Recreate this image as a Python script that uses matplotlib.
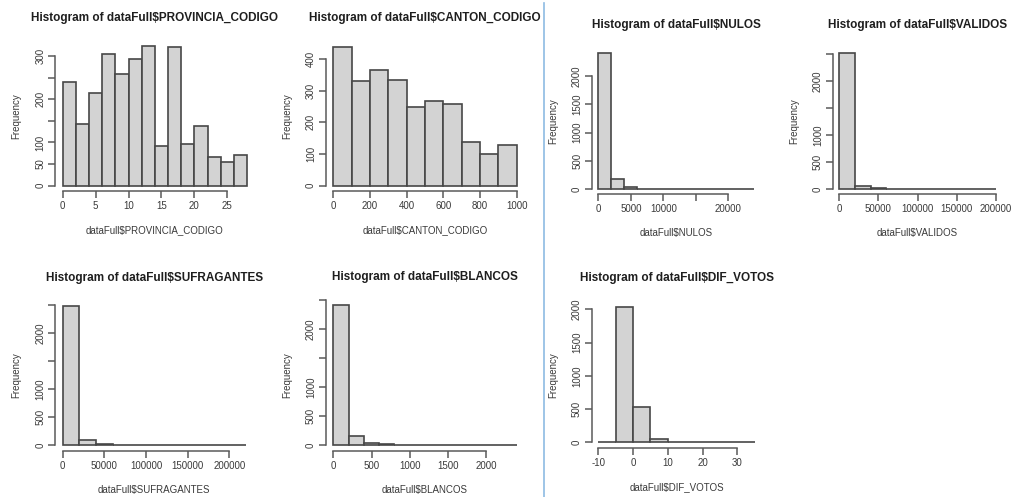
import matplotlib.pyplot as plt
import numpy as np

W, H = 1011, 497

# histogram data (bin edges + counts)
PROV_EDGES = np.arange(0, 29, 2)
PROV_COUNTS = [239, 143, 215, 304, 258, 292, 322, 92, 321, 96, 138, 67, 55, 72]

CANTON_EDGES = np.arange(0, 1001, 100)
CANTON_COUNTS = [439, 331, 365, 334, 249, 268, 259, 139, 100, 129]

NULOS_EDGES = np.arange(0, 24001, 2000)
NULOS_COUNTS = [2400, 175, 30, 5, 2, 1, 0, 0, 0, 0, 0, 1]

VALIDOS_EDGES = np.arange(0, 200001, 20000)
VALIDOS_COUNTS = [2530, 62, 10, 5, 3, 2, 1, 0, 0, 1]

SUFRA_EDGES = np.arange(0, 220001, 20000)
SUFRA_COUNTS = [2490, 90, 25, 4, 2, 1, 1, 0, 0, 0, 1]

BLANCOS_EDGES = np.arange(0, 2401, 200)
BLANCOS_COUNTS = [2410, 150, 32, 15, 4, 2, 1, 0, 1, 0, 0, 1]

DIF_EDGES = np.arange(-10, 36, 5)
DIF_COUNTS = [0, 2030, 535, 45, 12, 4, 1, 0, 1]

# tick labels (R drops the ones that would overlap)
PROV_YLABELS = ["0", "50", "100", "", "200", "", "300"]
CANTON_YLABELS = ["0", "100", "200", "300", "400"]
NULOS_XLABELS = ["0", "5000", "10000", "", "20000"]
BIG_YLABELS = ["0", "500", "1000", "", "2000", ""]
SMALL_YLABELS = ["0", "500", "1000", "1500", "2000"]
SUFRA_XLABELS = ["0", "50000", "100000", "150000", "200000"]
BLANCOS_XLABELS = ["0", "500", "1000", "1500", "2000"]
DIF_XLABELS = ["-10", "0", "10", "20", "30"]

plt.rcParams["font.family"] = ["Liberation Sans", "DejaVu Sans"]

fig = plt.figure(figsize=(W / 100, H / 100), dpi=100)
fig.patch.set_facecolor("white")

TXT = "#3a3a3a"
AXC = "#5a5a5a"


def fx(px):
    return px / W


def fy(py):
    return 1 - py / H


def panel(edges, counts, name, xticks, xlabels, yticks, ylabels,
          xpix, ypix, title_y):
    # xpix: pixel of first/last bin edge, ypix: (pixel of y=0, tick value, pixel of it)
    e0, e1 = edges[0], edges[-1]
    m = max(counts)
    p0, p1 = xpix
    q0, tv, qt = ypix
    sy = (q0 - qt) / tv
    left = p0 - 0.04 * (p1 - p0)
    right = p1 + 0.04 * (p1 - p0)
    bottom = q0 + 0.04 * m * sy
    top = q0 - 1.04 * m * sy
    ax = fig.add_axes([fx(left), fy(bottom), (right - left) / W, (bottom - top) / H])
    pad = 0.04 * (e1 - e0)
    ax.set_xlim(e0 - pad, e1 + pad)
    ax.set_ylim(-0.04 * m, 1.04 * m)
    ax.bar(edges[:-1], counts, width=np.diff(edges), align="edge",
           color="#d3d3d3", edgecolor="#474747", linewidth=1.2, clip_on=False)
    ax.patch.set_visible(False)
    for s in ("top", "right"):
        ax.spines[s].set_visible(False)
    for s in ("left", "bottom"):
        ax.spines[s].set_color(AXC)
        ax.spines[s].set_linewidth(1.1)
    ax.spines["bottom"].set_bounds(xticks[0], xticks[-1])
    ax.spines["left"].set_bounds(yticks[0], yticks[-1])
    ax.set_xticks(xticks, xlabels)
    ax.set_yticks(yticks, ylabels)
    ax.tick_params(colors=AXC, labelcolor=TXT, labelsize=7,
                   length=5, width=1.1, pad=2.2)
    ax.tick_params(axis="y", labelrotation=90)
    for t in ax.get_yticklabels():
        t.set_va("center")
    cx = (left + right) / 2
    cy = (top + bottom) / 2
    fig.text(fx(cx), fy(title_y), f"Histogram of dataFull${name}",
             ha="center", va="center", fontsize=8.5, fontweight="bold",
             color="#1e1e1e")
    fig.text(fx(cx), fy(bottom + 39), f"dataFull${name}",
             ha="center", va="center", fontsize=7, color=TXT)
    fig.text(fx(left - 39), fy(cy), "Frequency", rotation=90,
             ha="center", va="center", fontsize=7, color=TXT)
    return ax


panel(PROV_EDGES, PROV_COUNTS, "PROVINCIA_CODIGO",
      np.arange(0, 26, 5), [str(v) for v in range(0, 26, 5)],
      np.arange(0, 301, 50), PROV_YLABELS,
      (62.7, 247), (185.7, 300, 56), 18)

panel(CANTON_EDGES, CANTON_COUNTS, "CANTON_CODIGO",
      np.arange(0, 1001, 200), [str(v) for v in range(0, 1001, 200)],
      np.arange(0, 401, 100), CANTON_YLABELS,
      (333.3, 516.7), (185.7, 400, 59), 18)

panel(NULOS_EDGES, NULOS_COUNTS, "NULOS",
      np.arange(0, 20001, 5000), NULOS_XLABELS,
      np.arange(0, 2001, 500), SMALL_YLABELS,
      (598.3, 754.3), (189, 2000, 76), 25)

panel(VALIDOS_EDGES, VALIDOS_COUNTS, "VALIDOS",
      np.arange(0, 200001, 50000), SUFRA_XLABELS,
      np.arange(0, 2501, 500), BIG_YLABELS,
      (839.3, 995.7), (189, 2000, 81.3), 25)

panel(SUFRA_EDGES, SUFRA_COUNTS, "SUFRAGANTES",
      np.arange(0, 200001, 50000), SUFRA_XLABELS,
      np.arange(0, 2501, 500), BIG_YLABELS,
      (62.7, 246), (445, 2000, 333.3), 278)

panel(BLANCOS_EDGES, BLANCOS_COUNTS, "BLANCOS",
      np.arange(0, 2001, 500), BLANCOS_XLABELS,
      np.arange(0, 2501, 500), BIG_YLABELS,
      (333.3, 516.7), (445, 2000, 329), 277)

panel(DIF_EDGES, DIF_COUNTS, "DIF_VOTOS",
      np.arange(-10, 31, 10), DIF_XLABELS,
      np.arange(0, 2001, 500), SMALL_YLABELS,
      (598.3, 754.7), (442.3, 2000, 309.3), 278)

# the blue separator line between the two screenshots
fig.add_artist(plt.Line2D([fx(544), fx(544)], [fy(3), fy(497)],
                          color="#8dbbe3", linewidth=1.2))

fig.savefig("out.png", dpi=100, facecolor="white")
